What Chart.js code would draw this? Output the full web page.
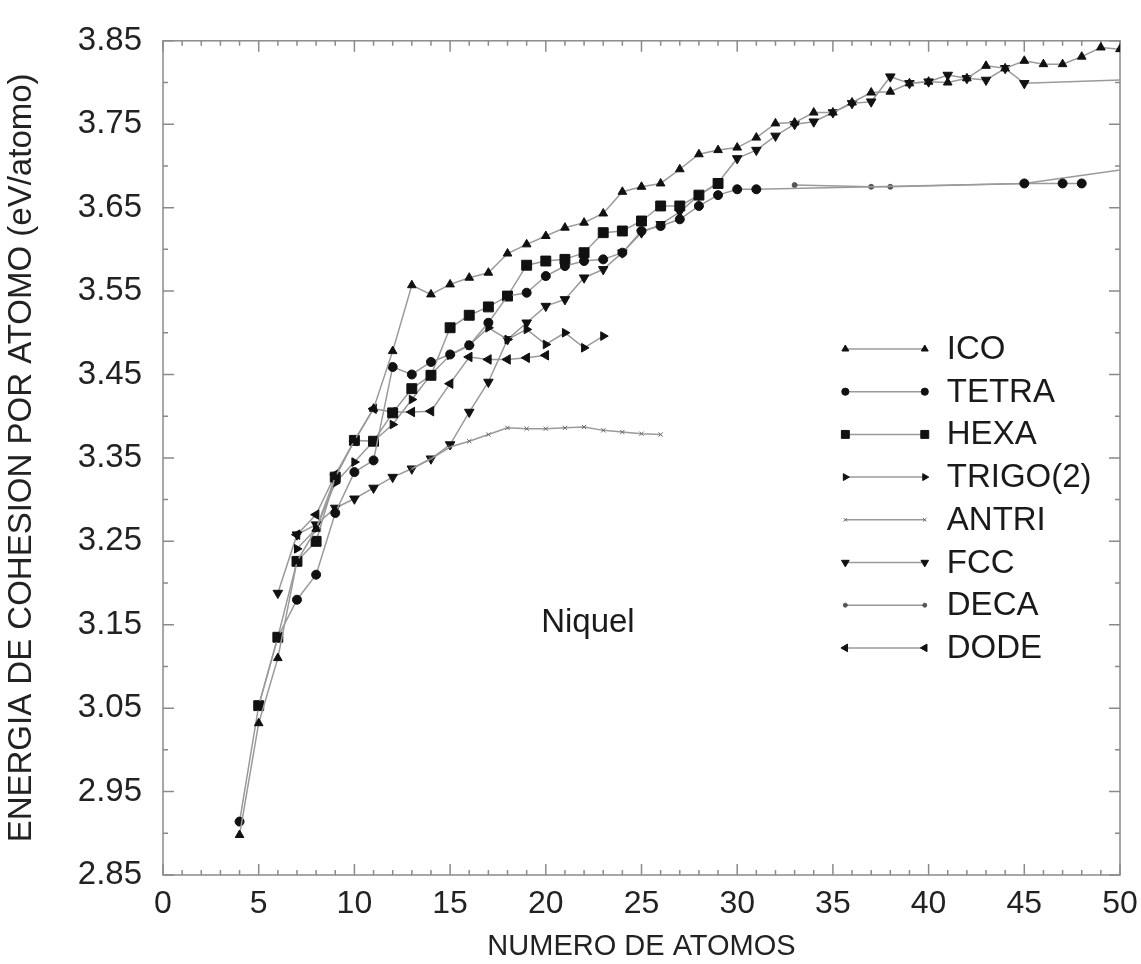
<!DOCTYPE html>
<html>
<head>
<meta charset="utf-8">
<script src="https://cdn.jsdelivr.net/npm/chart.js@4.4.1/dist/chart.umd.min.js"></script>
<style>
  html, body { margin: 0; padding: 0; background: #fff; }
</style>
</head>
<body>
<canvas id="chart" width="1141" height="964"></canvas>
<script>
// axis ticks
const xTicks = [0, 5, 10, 15, 20, 25, 30, 35, 40, 45, 50];
const yTicks = [2.85, 2.95, 3.05, 3.15, 3.25, 3.35, 3.45, 3.55, 3.65, 3.75, 3.85];

// cohesion energy (eV/atomo) vs number of atoms
const icoN = [4, 5, 6, 7, 8, 9, 10, 11, 12, 13, 14, 15, 16, 17, 18, 19, 20, 21, 22, 23, 24, 25, 26, 27,
  28, 29, 30, 31, 32, 33, 34, 35, 36, 37, 38, 39, 40, 41, 42, 43, 44, 45, 46, 47, 48, 49, 50];
const icoE = [2.898, 3.032, 3.11, 3.226, 3.265, 3.327, 3.371, 3.409, 3.478, 3.557, 3.546, 3.558, 3.566,
  3.572, 3.595, 3.606, 3.616, 3.626, 3.632, 3.643, 3.669, 3.675, 3.679, 3.696, 3.714, 3.719, 3.722, 3.734,
  3.751, 3.752, 3.764, 3.764, 3.776, 3.788, 3.789, 3.799, 3.801, 3.80, 3.805, 3.82, 3.817, 3.826, 3.822,
  3.822, 3.831, 3.842, 3.84];

const tetraN = [4, 5, 6, 7, 8, 9, 10, 11, 12, 13, 14, 15, 16, 17, 18, 19, 20, 21, 22, 23, 24, 25, 26, 27,
  28, 29, 30, 31, 45, 47, 48];
const tetraE = [2.914, 3.053, 3.135, 3.18, 3.21, 3.284, 3.333, 3.347, 3.459, 3.45, 3.465, 3.474, 3.485,
  3.512, 3.544, 3.548, 3.568, 3.58, 3.586, 3.588, 3.596, 3.622, 3.628, 3.636, 3.652, 3.665, 3.672, 3.672,
  3.679, 3.679, 3.679];

const hexaN = [5, 6, 7, 8, 9, 10, 11, 12, 13, 14, 15, 16, 17, 18, 19, 20, 21, 22, 23, 24, 25, 26, 27, 28, 29];
const hexaE = [3.053, 3.135, 3.226, 3.25, 3.327, 3.371, 3.37, 3.404, 3.433, 3.449, 3.506, 3.521, 3.531,
  3.544, 3.581, 3.586, 3.588, 3.596, 3.62, 3.622, 3.634, 3.652, 3.652, 3.665, 3.679];

const trigoN = [7, 8, 9, 10, 11, 12, 13, 14, 15, 16, 17, 18, 19, 20, 21, 22, 23];
const trigoE = [3.241, 3.265, 3.32, 3.345, 3.37, 3.39, 3.42, 3.45, 3.473, 3.485, 3.506, 3.492, 3.504,
  3.486, 3.50, 3.482, 3.496];

const antriN = [13, 14, 15, 16, 17, 18, 19, 20, 21, 22, 23, 24, 25, 26];
const antriE = [3.337, 3.349, 3.363, 3.37, 3.378, 3.386, 3.385, 3.385, 3.386, 3.387, 3.383, 3.381, 3.379, 3.378];

const fccN = [6, 7, 8, 9, 10, 11, 12, 13, 14, 15, 16, 17, 18, 19, 20, 21, 22, 23, 24, 25, 26, 27, 28, 29,
  30, 31, 32, 33, 34, 35, 36, 37, 38, 39, 40, 41, 42, 43, 44, 45, 50];
const fccE = [3.188, 3.258, 3.27, 3.29, 3.301, 3.314, 3.327, 3.337, 3.349, 3.366, 3.405, 3.441, 3.492,
  3.512, 3.532, 3.54, 3.566, 3.576, 3.596, 3.62, 3.63, 3.645, 3.665, 3.68, 3.709, 3.719, 3.736, 3.75,
  3.753, 3.764, 3.775, 3.777, 3.807, 3.799, 3.801, 3.809, 3.805, 3.803, 3.817, 3.799, 3.803];

const decaN = [33, 37, 38, 45, 50];
const decaE = [3.677, 3.675, 3.675, 3.679, 3.695];

const dodeN = [7, 8, 9, 10, 11, 12, 13, 14, 15, 16, 17, 18, 19, 20];
const dodeE = [3.258, 3.282, 3.33, 3.37, 3.409, 3.405, 3.405, 3.406, 3.439, 3.471, 3.468, 3.468, 3.47, 3.473];

const FONT = '"Liberation Sans", Arial, Helvetica, sans-serif';

function pts(n, e) {
  return n.map((v, i) => ({ x: v, y: e[i] }));
}

// points at n = 50 on FCC and DECA are only line ends, no marker
const lastNoMark = r => ctx => (ctx.raw && ctx.raw.x === 50 ? 0 : r);

function series(label, n, e, style, radius, rot, color) {
  return {
    label: label,
    data: pts(n, e),
    showLine: true,
    borderColor: '#9a9a9a',
    borderWidth: 1.5,
    pointStyle: style,
    pointRadius: radius,
    pointRotation: rot,
    pointBackgroundColor: color,
    pointBorderColor: color,
    pointBorderWidth: 1
  };
}

const datasets = [
  series('ICO', icoN, icoE, 'triangle', 5, 0, '#111'),
  series('TETRA', tetraN, tetraE, 'circle', 4.5, 0, '#111'),
  series('HEXA', hexaN, hexaE, 'rect', 7, 0, '#111'),
  series('TRIGO(2)', trigoN, trigoE, 'triangle', 5, 90, '#111'),
  series('ANTRI', antriN, antriE, 'crossRot', 3, 0, '#666'),
  series('FCC', fccN, fccE, 'triangle', 5.5, 180, '#111'),
  series('DECA', decaN, decaE, 'circle', 2.5, 0, '#555'),
  series('DODE', dodeN, dodeE, 'triangle', 5.5, -90, '#111')
];
datasets[5].pointRadius = lastNoMark(5.5);
datasets[6].pointRadius = lastNoMark(2.5);

// frame with inward ticks on all four sides
const frame = {
  id: 'frame',
  beforeDatasetsDraw(chart) {
    const { ctx, chartArea: a, scales: { x, y } } = chart;
    ctx.save();
    ctx.strokeStyle = '#8a8a8a';
    ctx.lineWidth = 1.5;
    ctx.strokeRect(a.left, a.top, a.right - a.left, a.bottom - a.top);
    ctx.beginPath();
    for (let v = x.min; v <= x.max + 1e-9; v += 1) {
      const px = x.getPixelForValue(v);
      const len = Math.round(v) % 5 === 0 ? 11 : 5;
      ctx.moveTo(px, a.bottom); ctx.lineTo(px, a.bottom - len);
      ctx.moveTo(px, a.top); ctx.lineTo(px, a.top + len);
    }
    const steps = Math.round((y.max - y.min) / 0.05);
    for (let i = 0; i <= steps; i++) {
      const py = y.getPixelForValue(y.min + i * 0.05);
      const len = i % 2 === 0 ? 11 : 5;
      ctx.moveTo(a.left, py); ctx.lineTo(a.left + len, py);
      ctx.moveTo(a.right, py); ctx.lineTo(a.right - len, py);
    }
    ctx.stroke();
    ctx.restore();
  }
};

// legend drawn inside the plot, plus the "Niquel" note
const innerLegend = {
  id: 'innerLegend',
  afterDraw(chart) {
    const { ctx, chartArea: a, scales: { x, y } } = chart;
    const w = a.right - a.left;
    const x0 = a.left + 0.713 * w;
    const x1 = a.left + 0.796 * w;
    const tx = a.left + 0.819 * w;
    const top = 349;
    const step = 42.7;
    ctx.save();
    ctx.font = '33px ' + FONT;
    ctx.textBaseline = 'middle';
    ctx.fillStyle = '#111';
    chart.data.datasets.forEach((ds, i) => {
      const yy = top + i * step;
      ctx.strokeStyle = ds.borderColor;
      ctx.lineWidth = ds.borderWidth;
      ctx.beginPath();
      ctx.moveTo(x0, yy); ctx.lineTo(x1, yy);
      ctx.stroke();
      const r = typeof ds.pointRadius === 'function' ? ds.pointRadius({ raw: null }) : ds.pointRadius;
      ctx.fillStyle = ds.pointBackgroundColor;
      ctx.strokeStyle = ds.pointBorderColor;
      ctx.lineWidth = 1;
      [x0, x1].forEach(px => {
        Chart.helpers.drawPoint(ctx, { pointStyle: ds.pointStyle, radius: r * 0.8, rotation: ds.pointRotation, borderWidth: 1 }, px, yy);
      });
      ctx.fillStyle = '#1a1a1a';
      ctx.fillText(ds.label, tx, yy + 1);
    });
    ctx.textAlign = 'center';
    ctx.fillText('Niquel', x.getPixelForValue(22.2), y.getPixelForValue(3.152));
    ctx.restore();
  }
};

new Chart(document.getElementById('chart'), {
  type: 'scatter',
  data: { datasets: datasets },
  plugins: [frame, innerLegend],
  options: {
    responsive: false,
    animation: false,
    layout: { padding: { left: 0, top: 35, right: 21, bottom: 0 } },
    plugins: { legend: { display: false }, tooltip: { enabled: false } },
    scales: {
      x: {
        type: 'linear',
        min: 0,
        max: 50,
        afterBuildTicks: s => { s.ticks = xTicks.map(v => ({ value: v })); },
        afterFit: s => { s.height = 89; s.paddingLeft = 0; s.paddingRight = 0; },
        grid: { display: false, drawTicks: false },
        border: { display: false },
        ticks: { padding: 10, color: '#222', font: { family: FONT, size: 32 } },
        title: {
          display: true,
          text: 'NUMERO DE ATOMOS',
          color: '#222',
          padding: { top: 0, bottom: 0 },
          font: { family: FONT, size: 29 }
        }
      },
      y: {
        type: 'linear',
        min: 2.85,
        max: 3.85,
        afterBuildTicks: s => { s.ticks = yTicks.map(v => ({ value: v })); },
        afterFit: s => { s.width = 163; },
        grid: { display: false, drawTicks: false },
        border: { display: false },
        ticks: {
          padding: 21,
          color: '#222',
          font: { family: FONT, size: 33 },
          callback: v => Number(v).toFixed(2)
        },
        title: {
          display: true,
          text: 'ENERGIA DE COHESION POR ATOMO (eV/atomo)',
          color: '#222',
          padding: { top: 2, bottom: 0 },
          font: { family: FONT, size: 33 }
        }
      }
    }
  }
});
</script>
</body>
</html>
